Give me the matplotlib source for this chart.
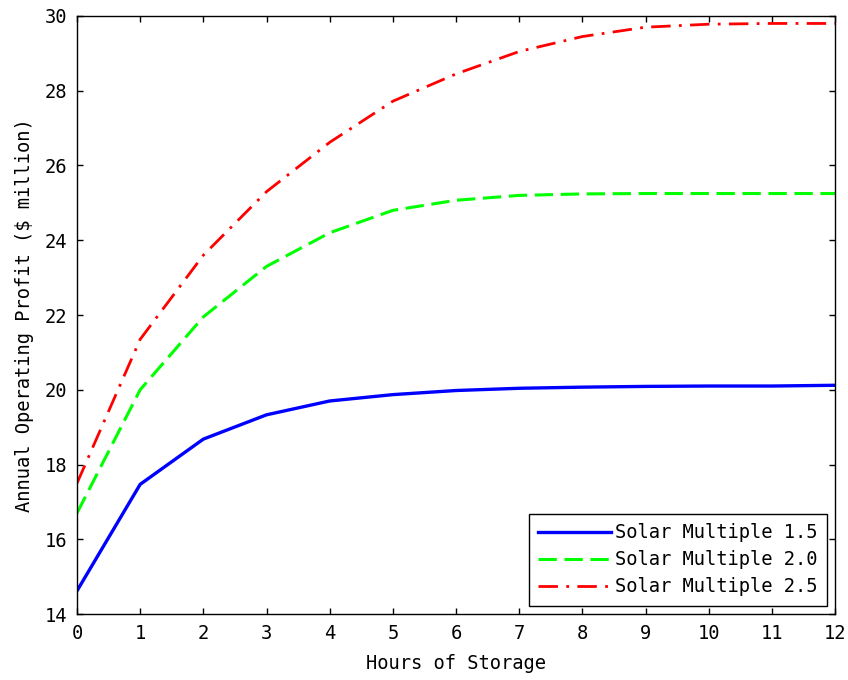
import numpy as np
import matplotlib.pyplot as plt

hours = [0, 1, 2, 3, 4, 5, 6, 7, 8, 9, 10, 11, 12]
sm15 = [14.62, 17.47, 18.68, 19.33, 19.7, 19.87, 19.98, 20.04, 20.07, 20.09, 20.1, 20.1, 20.12]
sm20 = [16.7, 20.0, 21.95, 23.3, 24.2, 24.8, 25.07, 25.2, 25.24, 25.25, 25.25, 25.25, 25.25]
sm25 = [17.5, 21.35, 23.6, 25.3, 26.62, 27.72, 28.45, 29.05, 29.45, 29.7, 29.78, 29.8, 29.8]
labels = ['Solar Multiple 1.5', 'Solar Multiple 2.0', 'Solar Multiple 2.5']

plt.rcParams['font.family'] = ['DejaVu Sans Mono']
plt.rcParams['font.size'] = 13.5

fig = plt.figure(figsize=(8.48, 6.8), dpi=100)
ax = fig.add_axes([0.0908, 0.097, 0.894, 0.8795])

ax.plot(hours, sm15, color='#0000ff', linestyle='-', linewidth=2.4, label=labels[0])
ax.plot(hours, sm20, color='#00ff00', linestyle=(0, (6, 2.5)), linewidth=2.2, label=labels[1])
ax.plot(hours, sm25, color='#ff0000', linestyle=(0, (7, 3, 1, 3)), linewidth=2.0, label=labels[2])

ax.set_xlim(0, 12)
ax.set_ylim(14, 30)
ax.set_xticks(np.arange(0, 13, 1))
ax.set_yticks(np.arange(14, 31, 2))
ax.tick_params(direction='in', top=True, right=True, length=4.5, width=1, pad=7)
for s in ax.spines.values():
    s.set_linewidth(1)

ax.set_xlabel('Hours of Storage', labelpad=8)
ax.set_ylabel('Annual Operating Profit ($ million)', labelpad=8)

leg = ax.legend(loc='lower right', fancybox=False, framealpha=1, edgecolor='black',
                handlelength=3.9, borderpad=0.5, labelspacing=0.43, handletextpad=0.2,
                borderaxespad=0.45)
leg.get_frame().set_linewidth(1)

fig.savefig('out.png', dpi=100)
